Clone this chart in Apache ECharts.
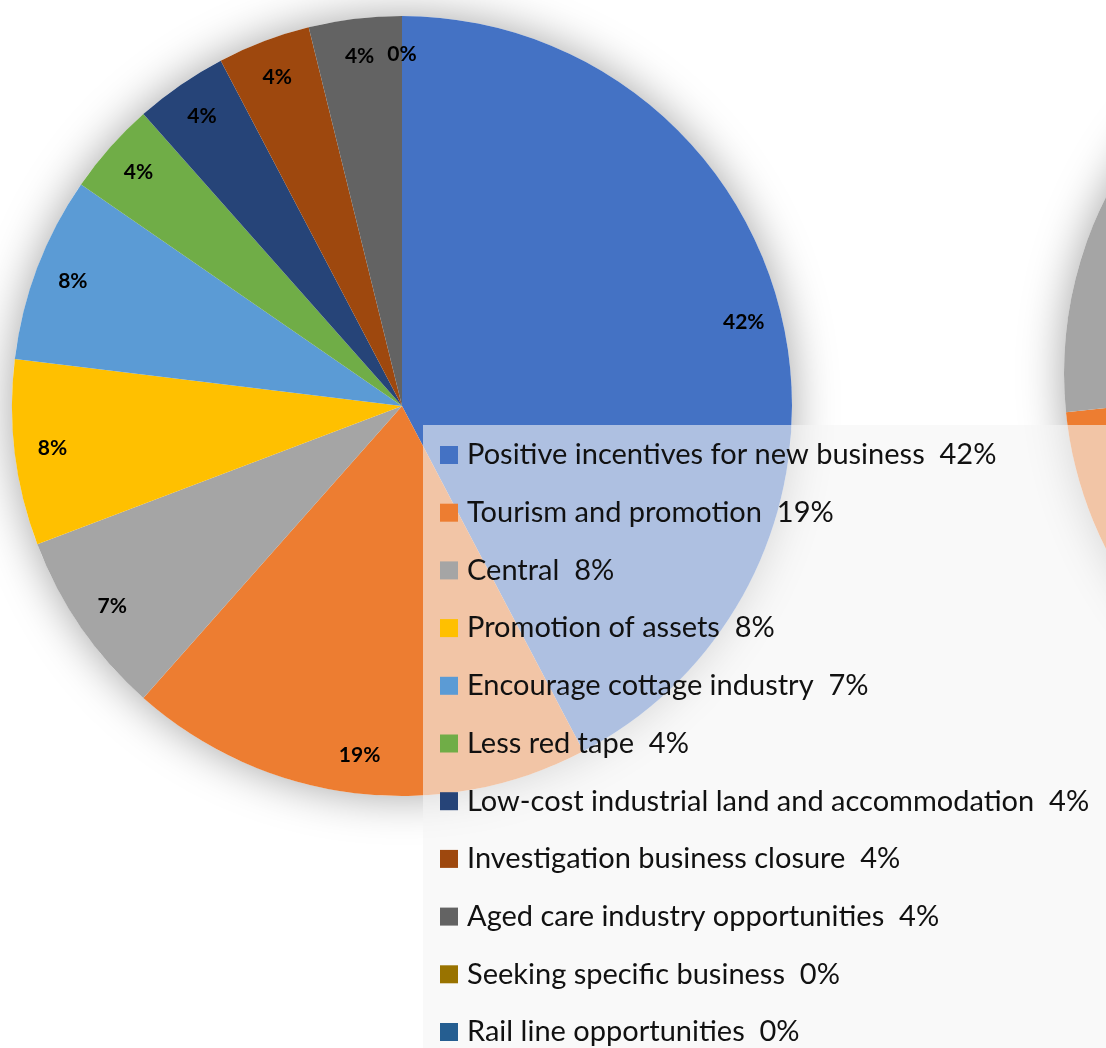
<!DOCTYPE html>
<html>
<head>
<meta charset="utf-8">
<script src="https://cdn.jsdelivr.net/npm/echarts@6/dist/echarts.min.js"></script>
<style>html,body{margin:0;padding:0;background:#fff}#c{width:1106px;height:1048px}</style>
</head>
<body>
<div id="c"></div>
<script>
// ---- data ----
const categories = [
  'Positive incentives for new business',
  'Tourism and promotion',
  'Central',
  'Promotion of assets',
  'Encourage cottage industry',
  'Less red tape',
  'Low-cost industrial land and accommodation',
  'Investigation business closure',
  'Aged care industry opportunities',
  'Seeking specific business',
  'Rail line opportunities'
];
const counts = [11, 5, 2, 2, 2, 1, 1, 1, 1, 0, 0];
const pieLabels = ['42%', '19%', '7%', '8%', '8%', '4%', '4%', '4%', '4%', '0%', '0%'];
const legendPct = ['42%', '19%', '8%', '8%', '7%', '4%', '4%', '4%', '4%', '0%', '0%'];
const colors = ['#4472C4', '#ED7D31', '#A5A5A5', '#FFC000', '#5B9BD5', '#70AD47',
                '#264478', '#9E480E', '#636363', '#997300', '#255E91'];
// partially visible neighbouring pie at the right edge
const otherNames = ['other-blue', 'other-orange', 'other-gray'];
const otherValues = [55, 18.4, 26.6];
const otherColors = ['#4472C4', '#ED7D31', '#A5A5A5'];

const chart = echarts.init(document.getElementById('c'), null, {renderer: 'canvas'});
const mainData = categories.map((n, i) => ({name: n, value: counts[i], itemStyle: {color: colors[i]}}));
const labelData = categories.map((n, i) => ({name: n, value: counts[i]}));
const otherData = otherNames.map((n, i) => ({name: n, value: otherValues[i], itemStyle: {color: otherColors[i]}}));
const pctMap = {};
categories.forEach((n, i) => pctMap[n] = legendPct[i]);

const shadowStyle = {color: '#ffffff', shadowBlur: 45, shadowColor: 'rgba(0,0,0,0.36)'};

chart.setOption({
  animation: false,
  backgroundColor: '#ffffff',
  legend: {
    data: categories,
    orient: 'vertical',
    left: 423,
    top: 425,
    height: 700,
    padding: [15, 40, 40, 17],
    itemWidth: 18,
    itemHeight: 18,
    itemGap: 27.7,
    icon: 'rect',
    backgroundColor: 'rgba(245,245,245,0.6)',
    selectedMode: false,
    formatter: n => n + '  ' + pctMap[n],
    textStyle: {fontFamily: 'Lato', fontSize: 29, color: '#111', lineHeight: 30, padding: [0, 0, 0, 4]}
  },
  series: [
    {type: 'pie', name: 'shadowMain', center: [402, 406], radius: [0, 390], silent: true,
     label: {show: false}, labelLine: {show: false}, itemStyle: shadowStyle, data: [{name: 'bgA', value: 1}]},
    {type: 'pie', name: 'shadowOther', center: [1454, 373], radius: [0, 390], silent: true,
     label: {show: false}, labelLine: {show: false}, itemStyle: shadowStyle, data: [{name: 'bgB', value: 1}]},
    {type: 'pie', name: 'other', center: [1454, 373], radius: [0, 390], startAngle: 90, clockwise: true,
     silent: true, label: {show: false}, labelLine: {show: false}, data: otherData},
    {type: 'pie', name: 'main', center: [402, 406], radius: [0, 390], startAngle: 90, clockwise: true,
     silent: true, label: {show: false}, labelLine: {show: false}, data: mainData},
    {type: 'pie', name: 'labels', center: [402, 406], radius: [308, 390], startAngle: 90, clockwise: true,
     silent: true, itemStyle: {color: 'rgba(0,0,0,0)'}, labelLine: {show: false},
     label: {show: true, position: 'inside', color: '#000', fontFamily: 'Lato', fontWeight: 'bold', fontSize: 21,
             formatter: p => pieLabels[p.dataIndex]},
     data: labelData}
  ]
});
</script>
</body>
</html>
